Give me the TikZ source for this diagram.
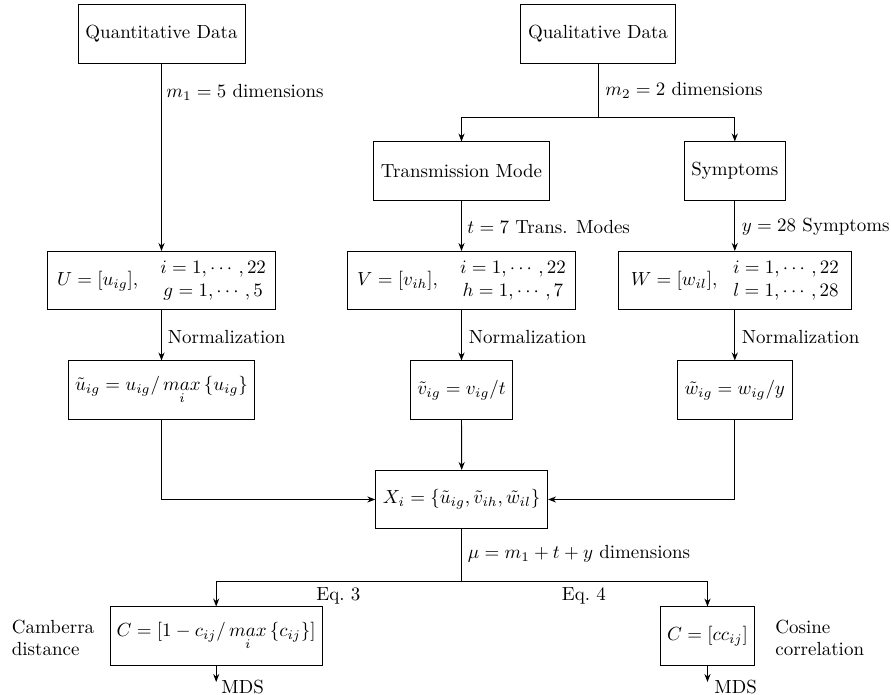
\documentclass[tikz,border=0pt]{standalone}
\usepackage{amsmath}
\usetikzlibrary{arrows.meta}
\begin{document}
\begin{tikzpicture}[x=0.527pt,y=-0.527pt,
  box/.style={draw,line width=0.5pt,minimum height=30.6pt,inner xsep=3.5pt,inner ysep=2pt,align=center},
  lbl/.style={anchor=west,inner sep=0pt},
  conn/.style={line width=0.5pt},
  arr/.style={line width=0.5pt,-{Stealth[length=4.2pt,width=3.2pt]}}]
\useasboundingbox (0,0) rectangle (891,695);
% boxes
\node[box,minimum width=88pt] (quant) at (161.5,34) {Quantitative Data};
\node[box,minimum width=81.5pt] (qual) at (598,34) {Qualitative Data};
\node[box,minimum width=92.9pt] (trans) at (461.5,171) {Transmission Mode};
\node[box,minimum width=53.2pt] (symp) at (734.8,171) {Symptoms};
\node[box,minimum width=120pt] (U) at (161.5,280.5) {$U=[u_{ig}],\quad\begin{array}{@{}c@{}}i=1,\cdots,22\\ g=1,\cdots,5\end{array}$};
\node[box,minimum width=119.8pt] (V) at (461.5,280.5) {$V=[v_{ih}],\quad\begin{array}{@{}c@{}}i=1,\cdots,22\\ h=1,\cdots,7\end{array}$};
\node[box,minimum width=122.6pt] (W) at (734.8,280.5) {$W=[w_{il}],\ \ \begin{array}{@{}c@{}}i=1,\cdots,22\\ l=1,\cdots,28\end{array}$};
\node[box,minimum width=97.1pt] (ut) at (161.5,390) {$\tilde{u}_{ig}=u_{ig}/\mathop{max}\limits_{i}\,\{u_{ig}\}$};
\node[box,minimum width=54.1pt] (vt) at (461.5,390) {$\tilde{v}_{ig}=v_{ig}/t$};
\node[box,minimum width=60.4pt] (wt) at (734.8,390) {$\tilde{w}_{ig}=w_{ig}/y$};
\node[box,minimum width=90.6pt] (X) at (461.7,499.5) {$X_i=\{\tilde{u}_{ig},\tilde{v}_{ih},\tilde{w}_{il}\}$};
\node[box,minimum width=111.2pt] (cl) at (216.2,636) {$C=[1-c_{ij}/\mathop{max}\limits_{i}\,\{c_{ij}\}]$};
\node[box,minimum width=49.9pt] (cr) at (707.5,636) {$C=[cc_{ij}]$};
% branch points
\coordinate (qb) at (598,117);
\coordinate (xb) at (461.7,581);
\coordinate (mdsl) at (216.2,682);
\coordinate (mdsr) at (707.5,682);
% connectors
\draw[arr] (quant.south) -- (U.north);
\draw[conn] (qual.south) -- (qb);
\draw[arr] (qb) -| (trans.north);
\draw[arr] (qb) -| (symp.north);
\draw[arr] (trans.south) -- (V.north);
\draw[arr] (symp.south) -- (W.north);
\draw[arr] (U.south) -- (ut.north);
\draw[arr] (V.south) -- (vt.north);
\draw[arr] (W.south) -- (wt.north);
\draw[arr] (ut.south) |- (X.west);
\draw[arr] (wt.south) |- (X.east);
\draw[arr] (vt.south) -- (X.north);
\draw[conn] (X.south) -- (xb);
\draw[arr] (xb) -| (cl.north);
\draw[arr] (xb) -| (cr.north);
\draw[arr] (cl.south) -- (mdsl);
\draw[arr] (cr.south) -- (mdsr);
% labels
\node[lbl] (l1) at (166,92) {$m_1=5$ dimensions};
\node[lbl] (l2) at (605,90) {$m_2=2$ dimensions};
\node[lbl] (l3) at (467,227) {$t=7$ Trans. Modes};
\node[lbl] (l4) at (741.5,227) {$y=28$ Symptoms};
\node[lbl] (n1) at (167.5,337) {Normalization};
\node[lbl] (n2) at (468.5,337) {Normalization};
\node[lbl] (n3) at (741.5,337) {Normalization};
\node[lbl] (l5) at (467.5,554) {$\mu=m_1+t+y$ dimensions};
\node[lbl] (e3) at (316,596) {Eq.~3};
\node[lbl] (e4) at (561.5,596) {Eq.~4};
\node[lbl,align=left] (cam) at (11.5,638) {Camberra\\distance};
\node[lbl,align=left] (cos) at (775,638) {Cosine\\correlation};
\node[lbl] (m1) at (221,687) {MDS};
\node[lbl] (m2) at (714,687) {MDS};
\end{tikzpicture}
\end{document}
